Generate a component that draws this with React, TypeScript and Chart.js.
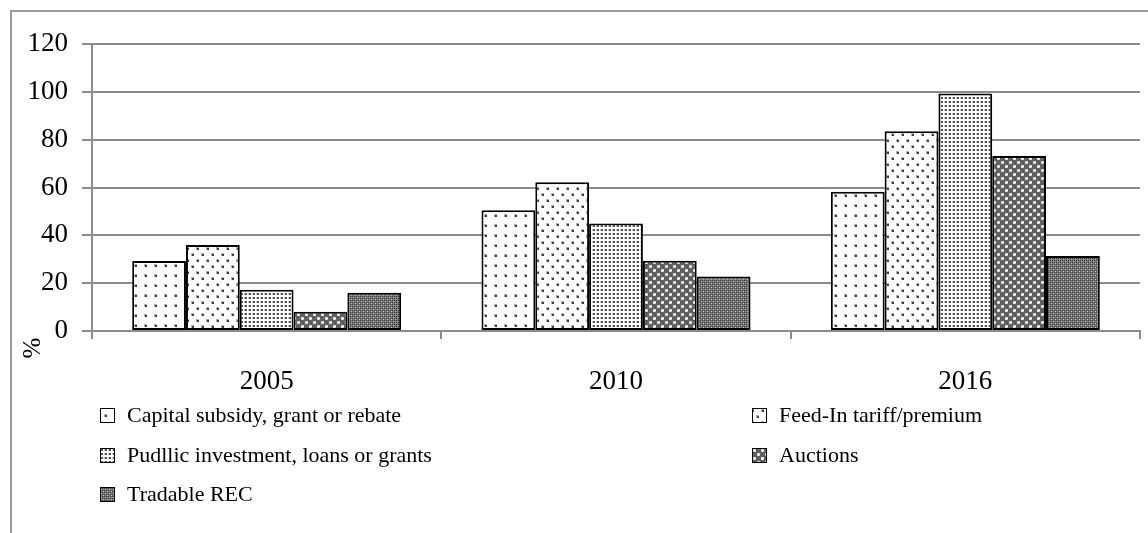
import React, { useEffect, useRef } from "react";
import { Chart, registerables } from "chart.js";

Chart.register(...registerables);

const categories = ["2005", "2010", "2016"];
const capitalSubsidy = [29.3, 50.5, 58.2];
const feedInTariff = [36, 62.2, 83.5];
const publicInvestment = [17.2, 45, 99.3];
const auctions = [8, 29.4, 73.2];
const tradableRec = [16, 22.8, 31.4];
const seriesNames = [
  "Capital subsidy, grant or rebate",
  "Feed-In tariff/premium",
  "Pudllic investment, loans or grants",
  "Auctions",
  "Tradable REC",
];
const yMin = 0;
const yMax = 120;
const yStep = 20;
const yTitle = "%";

const FONT = "'Liberation Serif', 'Times New Roman', serif";
const GRID = "#8c8c8c";

function makePattern(
  w: number,
  h: number,
  bg: string,
  layers: Array<[string, Array<[number, number, number, number]>]>
): CanvasPattern | string {
  const c = document.createElement("canvas");
  c.width = w;
  c.height = h;
  const ctx = c.getContext("2d");
  if (!ctx) return bg;
  ctx.fillStyle = bg;
  ctx.fillRect(0, 0, w, h);
  layers.forEach(([color, px]) => {
    ctx.fillStyle = color;
    px.forEach(([x, y, pw, ph]) => ctx.fillRect(x, y, pw, ph));
  });
  const p = ctx.createPattern(c, "repeat");
  return p || bg;
}

function plus(cx: number, cy: number): Array<[number, number, number, number]> {
  return [
    [cx - 1, cy, 3, 1],
    [cx, cy - 1, 1, 3],
  ];
}

function buildPatterns() {
  const p1 = makePattern(10, 10, "#ffffff", [
    ["#b0b0b0", [[4, 4, 3, 3]]],
    ["#3c3c3c", [[5, 5, 2, 2]]],
  ]);
  const p2 = makePattern(10, 12, "#ffffff", [
    ["#b0b0b0", [[1, 1, 3, 3], [6, 7, 3, 3]]],
    ["#404040", [[2, 2, 2, 2], [7, 8, 2, 2]]],
  ]);
  const p3 = makePattern(4, 4, "#ffffff", [
    ["#c8c8c8", [[0, 1, 3, 2]]],
    ["#555555", [[1, 1, 2, 2]]],
  ]);
  const p4 = makePattern(8, 8, "#606060", [
    ["#c0c0c0", [[1, 1, 3, 3], [5, 5, 3, 3]]],
    ["#ffffff", [...plus(2, 2), ...plus(6, 6)]],
  ]);
  const p5 = makePattern(4, 4, "#7a7a7a", [
    ["#383838", [[0, 0, 1, 1], [2, 2, 1, 1], [0, 2, 1, 1], [2, 0, 1, 1]]],
    ["#b4b4b4", [[1, 1, 1, 1], [3, 3, 1, 1]]],
  ]);
  return [p1, p2, p3, p4, p5];
}

export default function App() {
  const ref = useRef<HTMLCanvasElement | null>(null);

  useEffect(() => {
    const canvas = ref.current;
    if (!canvas) return;
    const patterns = buildPatterns();
    const seriesValues = [capitalSubsidy, feedInTariff, publicInvestment, auctions, tradableRec];

    const legendPlugin = {
      id: "customLegend",
      afterDraw(chart: any) {
        const ctx = chart.ctx as CanvasRenderingContext2D;
        const left = chart.chartArea.left;
        const cols = [left + 8, left + 660];
        const rows = [415, 455, 494];
        ctx.save();
        ctx.font = `22px ${FONT}`;
        ctx.textBaseline = "middle";
        seriesNames.forEach((name, i) => {
          const x = cols[i % 2];
          const y = rows[Math.floor(i / 2)];
          ctx.fillStyle = patterns[i] as any;
          ctx.fillRect(x, y - 7, 15, 15);
          ctx.strokeStyle = "#000";
          ctx.lineWidth = 1;
          ctx.strokeRect(x + 0.5, y - 6.5, 14, 14);
          ctx.fillStyle = "#000";
          ctx.textAlign = "left";
          ctx.fillText(name, x + 27, y + 1);
        });
        ctx.save();
        ctx.translate(33, chart.chartArea.bottom + 17);
        ctx.rotate(-Math.PI / 2);
        ctx.font = `25px ${FONT}`;
        ctx.textAlign = "center";
        ctx.textBaseline = "middle";
        ctx.fillStyle = "#000";
        ctx.fillText(yTitle, 0, 0);
        ctx.restore();
        ctx.restore();
      },
    };

    const chart = new Chart(canvas, {
      type: "bar",
      data: {
        labels: categories,
        datasets: seriesNames.map((name, i) => ({
          label: name,
          data: seriesValues[i],
          backgroundColor: patterns[i] as any,
          borderColor: "#000000",
          borderWidth: 2,
          borderSkipped: false,
          barPercentage: 1,
          categoryPercentage: 0.77,
        })),
      },
      options: {
        animation: false,
        responsive: false,
        devicePixelRatio: 1,
        layout: { padding: { left: 0, top: 44, right: 8, bottom: 0 } },
        plugins: {
          legend: { display: false },
          tooltip: { enabled: false },
          title: { display: false },
        },
        scales: {
          x: {
            type: "category",
            offset: true,
            grid: {
              offset: true,
              drawOnChartArea: false,
              drawTicks: true,
              tickLength: 8,
              color: GRID,
              lineWidth: 2,
            },
            border: { display: true, color: GRID, width: 2 },
            ticks: {
              color: "#000",
              font: { family: FONT, size: 27 },
              padding: 27,
            },
            afterFit: (s: any) => {
              s.height = 202;
            },
          },
          y: {
            min: yMin,
            max: yMax,
            ticks: {
              stepSize: yStep,
              color: "#000",
              font: { family: FONT, size: 27 },
              padding: 14,
            },
            grid: {
              color: GRID,
              lineWidth: 2,
              drawTicks: true,
              tickLength: 10,
            },
            border: { display: true, color: GRID, width: 2 },
            afterFit: (s: any) => {
              s.width = 92;
            },
          },
        },
      },
      plugins: [legendPlugin],
    });
    return () => chart.destroy();
  }, []);

  return (
    <div
      style={{
        position: "fixed",
        left: 0,
        top: 0,
        width: 1148,
        height: 533,
        background: "#fff",
      }}
    >
      <canvas ref={ref} width={1148} height={533} style={{ position: "absolute", left: 0, top: 0 }} />
      <div
        style={{
          position: "absolute",
          left: 10,
          top: 10,
          right: 0,
          bottom: 0,
          borderLeft: "2px solid #999",
          borderTop: "2px solid #999",
          pointerEvents: "none",
        }}
      />
    </div>
  );
}
